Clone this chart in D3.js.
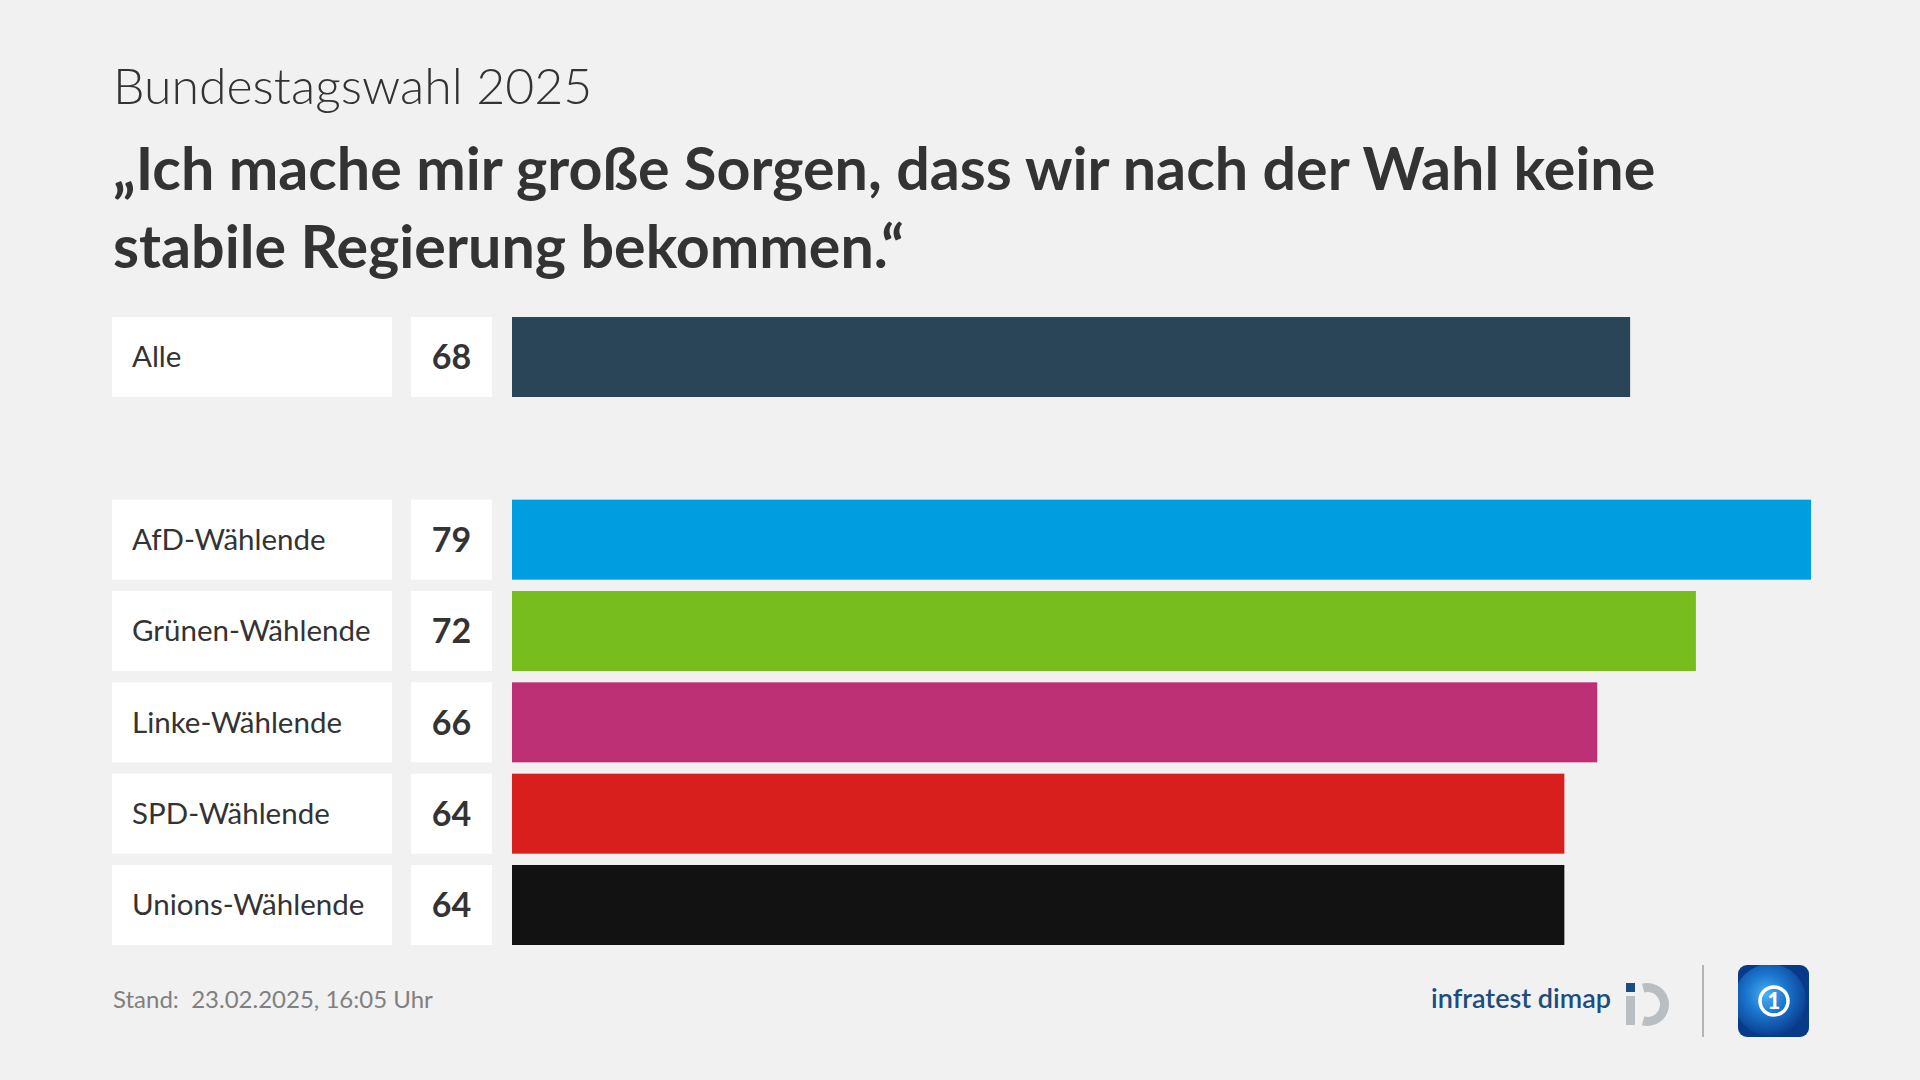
<!DOCTYPE html>
<html><head><meta charset="utf-8">
<script src="https://cdn.jsdelivr.net/npm/d3@7"></script>
<style>
body{margin:0;background:#f1f1f1;}
svg{display:block;font-family:Lato,"Noto Sans",sans-serif;}
</style>
</head><body>
<svg id="c" width="1920" height="1080"></svg>
<script>
const kicker = "Bundestagswahl 2025";
const titleLines = ["„Ich mache mir große Sorgen, dass wir nach der Wahl keine", "stabile Regierung bekommen.“"];
const categories = ["Alle", "", "AfD-Wählende", "Grünen-Wählende", "Linke-Wählende", "SPD-Wählende", "Unions-Wählende"];
const values = [68, null, 79, 72, 66, 64, 64];
const colors = ["#2b4558", null, "#009ee0", "#78bd1e", "#be3075", "#d81f1e", "#121212"];
const footnote = "Stand:  23.02.2025, 16:05 Uhr";
const brand = "infratest dimap";

const svg = d3.select("#c");
svg.append("rect").attr("width",1920).attr("height",1080).attr("fill","#f1f1f1");

// headings
svg.append("text").attr("x",113).attr("y",104).attr("fill","#333")
  .attr("font-size",50).attr("font-weight",300).text(kicker);
svg.selectAll("text.title").data(titleLines).join("text").attr("class","title")
  .attr("x",113).attr("y",(d,i)=>190+i*78).attr("fill","#333")
  .attr("font-size",59.2).attr("font-weight",700).text(d=>d);

const rows = d3.range(categories.length).filter(i=>values[i]!=null);
const x = d3.scaleLinear().domain([0, d3.max(values)]).range([512, 1811]);
const y = d3.scaleBand().domain(d3.range(categories.length)).range([317, 945]).paddingInner(0.124);

const g = svg.append("g");
const row = g.selectAll("g.row").data(rows).join("g").attr("class","row")
  .attr("transform", i=>`translate(0,${y(i)})`);
row.append("rect").attr("x",112).attr("width",280).attr("height",y.bandwidth()).attr("fill","#fff");
row.append("rect").attr("x",411).attr("width",81).attr("height",y.bandwidth()).attr("fill","#fff");
row.append("rect").attr("x",x(0)).attr("width",i=>x(values[i])-x(0)).attr("height",y.bandwidth()).attr("fill",i=>colors[i]);
row.append("text").attr("x",132).attr("y",y.bandwidth()/2).attr("dy","0.35em")
  .attr("font-size",29.5).attr("fill","#333").text(i=>categories[i]);
row.append("text").attr("x",451.5).attr("y",y.bandwidth()/2).attr("dy","0.36em")
  .attr("text-anchor","middle").attr("font-size",34).attr("font-weight",700).attr("fill","#333")
  .text(i=>values[i]);

// footer
svg.append("text").attr("x",113).attr("y",1008).attr("font-size",24).attr("fill","#808080").style("white-space","pre").text(footnote);

// infratest dimap
svg.append("text").attr("x",1611).attr("y",1008).attr("text-anchor","end").attr("font-size",27)
  .attr("font-weight",600).attr("fill","#1b4d7e").text(brand);
svg.append("rect").attr("x",1626).attr("y",983).attr("width",9).attr("height",9).attr("fill","#1b4d7e");
svg.append("rect").attr("x",1626).attr("y",996).attr("width",9).attr("height",29).attr("fill","#b9bec3");
svg.append("path").attr("transform","translate(1647.5,1004.5)")
  .attr("d", d3.arc()({innerRadius:12.5,outerRadius:21.5,startAngle:-0.26,endAngle:Math.PI+0.26}))
  .attr("fill","#b9bec3");
svg.append("line").attr("x1",1703).attr("x2",1703).attr("y1",965).attr("y2",1037).attr("stroke","#b5b5b5").attr("stroke-width",2);

// tagesschau icon
const defs = svg.append("defs");
const rg = defs.append("radialGradient").attr("id","glb").attr("cx","45%").attr("cy","42%").attr("r","60%");
rg.append("stop").attr("offset","0%").attr("stop-color","#4fb0f0");
rg.append("stop").attr("offset","45%").attr("stop-color","#1a78d0");
rg.append("stop").attr("offset","100%").attr("stop-color","#0a3b8c");
defs.append("clipPath").attr("id","ic").append("rect").attr("x",1738).attr("y",965).attr("width",71).attr("height",72).attr("rx",9);
const ic = svg.append("g").attr("clip-path","url(#ic)");
ic.append("rect").attr("x",1738).attr("y",965).attr("width",71).attr("height",72).attr("fill","#083a8a");
ic.append("circle").attr("cx",1770).attr("cy",1000).attr("r",36).attr("fill","url(#glb)");
svg.append("circle").attr("cx",1774).attr("cy",1001).attr("r",14).attr("fill","none").attr("stroke","#fff").attr("stroke-width",3.5);
svg.append("text").attr("x",1774).attr("y",1001).attr("dy","0.36em").attr("text-anchor","middle")
  .attr("font-size",22).attr("font-weight",900).attr("fill","#fff").text("1");
</script>
</body></html>
